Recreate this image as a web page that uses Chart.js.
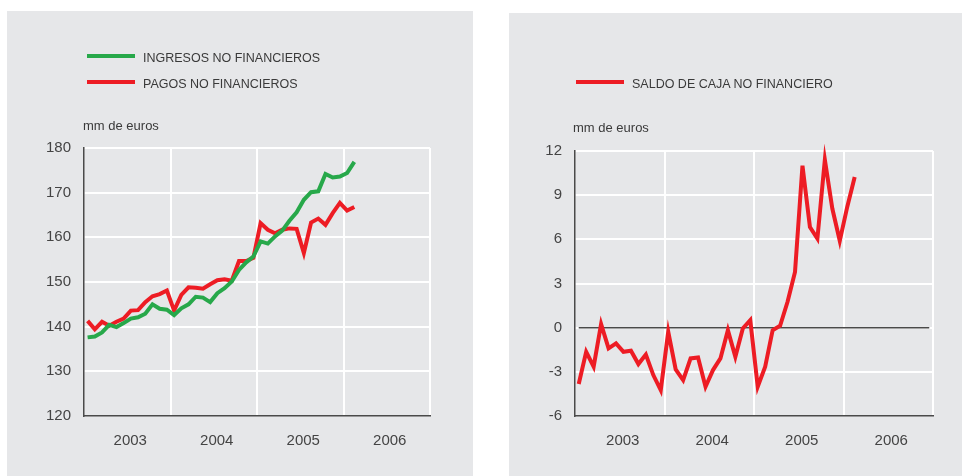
<!DOCTYPE html>
<html>
<head>
<meta charset="utf-8">
<script src="https://cdn.jsdelivr.net/npm/chart.js@4/dist/chart.umd.min.js"></script>
<style>
  html, body { margin: 0; padding: 0; background: #ffffff; }
  body { width: 962px; height: 476px; position: relative; overflow: hidden; font-family: "Liberation Sans", Arial, sans-serif; }
  .panel { position: absolute; background: #e6e7e9; }
  .panel canvas { position: absolute; left: 0; top: 0; }
  .txt { position: absolute; color: #3a3a3a; white-space: nowrap; line-height: 1; }
  .leg { font-size: 12.5px; }
  .unit { font-size: 13px; }
  .sw { position: absolute; height: 4px; }
</style>
</head>
<body>
<div class="panel" id="p1" style="left:7px; top:11px; width:466px; height:465px;">
  <canvas id="c1" width="466" height="465"></canvas>
  <div class="sw" id="sw1a" style="left:80px; top:43px; width:48px;"></div>
  <div class="txt leg" id="lg1a" style="left:136px; top:41px;"></div>
  <div class="sw" id="sw1b" style="left:80px; top:69px; width:48px;"></div>
  <div class="txt leg" id="lg1b" style="left:136px; top:67px;"></div>
  <div class="txt unit" id="u1" style="left:76px; top:108px;"></div>
</div>
<div class="panel" id="p2" style="left:509px; top:13px; width:453px; height:463px;">
  <canvas id="c2" width="453" height="463"></canvas>
  <div class="sw" id="sw2a" style="left:67px; top:67px; width:48px;"></div>
  <div class="txt leg" id="lg2a" style="left:123px; top:65px;"></div>
  <div class="txt unit" id="u2" style="left:64px; top:108px;"></div>
</div>
<script>
// ---------------- DATA ----------------
const years = ['2003', '2004', '2005', '2006'];
const unitLabel = 'mm de euros';
const nameIngresos = 'INGRESOS NO FINANCIEROS';
const namePagos = 'PAGOS NO FINANCIEROS';
const nameSaldo = 'SALDO DE CAJA NO FINANCIERO';

// monthly, Jan 2003 .. Feb 2006 (12-month cumulated, mm de euros)
const ingresos = [137.6, 137.8, 138.7, 140.4, 139.9, 140.8, 141.8, 142.1, 142.9, 145.0, 144.0, 143.8,
                  142.6, 144.1, 145.0, 146.7, 146.5, 145.5, 147.5, 148.6, 150.1, 152.7, 154.4, 155.7,
                  159.1, 158.6, 160.2, 161.5, 163.7, 165.6, 168.4, 170.1, 170.3, 174.2, 173.4, 173.6,
                  174.4, 176.9];
const pagos    = [141.3, 139.4, 141.1, 140.2, 141.1, 141.8, 143.6, 143.7, 145.5, 146.8, 147.3, 148.1,
                  143.6, 147.1, 148.8, 148.7, 148.5, 149.5, 150.4, 150.6, 150.3, 154.7, 154.7, 155.4,
                  163.2, 161.7, 160.9, 161.7, 162.0, 161.9, 156.5, 163.3, 164.2, 162.8, 165.4, 167.7,
                  166.0, 166.8];
const saldo    = [-3.83, -1.64, -2.65, 0.24, -1.41, -1.07, -1.64, -1.57, -2.47, -1.82, -3.22, -4.24,
                  -0.28, -2.84, -3.56, -2.09, -2.02, -4.01, -2.88, -2.09, -0.17, -1.98, -0.05, 0.51,
                  -4.01, -2.65, -0.17, 0.13, 1.76, 3.79, 11.0, 6.84, 6.05, 11.4, 8.09, 5.9,
                  8.2, 10.24];

// ---------------- STYLE ----------------
const GREEN = '#27a84a';
const RED = '#ed1c24';
const AXIS = '#4a4a4a';
const GRID = '#ffffff';
const TICKC = '#444444';
const FONT = '"Liberation Sans", Arial, sans-serif';

document.getElementById('lg1a').textContent = nameIngresos;
document.getElementById('lg1b').textContent = namePagos;
document.getElementById('lg2a').textContent = nameSaldo;
document.getElementById('u1').textContent = unitLabel;
document.getElementById('u2').textContent = unitLabel;
document.getElementById('sw1a').style.background = GREEN;
document.getElementById('sw1b').style.background = RED;
document.getElementById('sw2a').style.background = RED;

const toXY = arr => arr.map((v, i) => ({ x: i + 0.5, y: v }));

function xScale() {
  return {
    type: 'linear',
    min: 0,
    max: years.length * 12,
    afterBuildTicks: s => { s.ticks = []; for (let v = 0; v <= years.length * 12; v += 6) s.ticks.push({ value: v }); },
    afterFit: s => { s.height = 60; },
    grid: {
      color: c => (c.tick && c.tick.value % 12 === 0 && c.tick.value !== 0) ? GRID : 'rgba(0,0,0,0)',
      lineWidth: 2,
      drawTicks: false
    },
    border: { display: true, color: AXIS, width: 1.5 },
    ticks: {
      autoSkip: false,
      maxRotation: 0,
      padding: 16,
      labelOffset: 3,
      color: TICKC,
      font: { family: FONT, size: 15 },
      callback: v => (v % 12 === 6) ? years[(v - 6) / 12] : ''
    }
  };
}

function yScale(min, max, step, width) {
  return {
    type: 'linear',
    min: min, max: max,
    afterFit: s => { s.width = width; },
    grid: {
      color: c => (c.tick && c.tick.value === min) ? 'rgba(0,0,0,0)' : GRID,
      lineWidth: 2,
      drawTicks: false
    },
    border: { display: true, color: AXIS, width: 1.5 },
    ticks: {
      stepSize: step,
      padding: 13,
      color: TICKC,
      font: { family: FONT, size: 15 }
    }
  };
}

const common = {
  responsive: false,
  animation: false,
  events: [],
  plugins: { legend: { display: false }, tooltip: { enabled: false } },
  elements: { point: { radius: 0 }, line: { tension: 0, borderJoinStyle: 'miter', borderCapStyle: 'butt' } }
};

new Chart(document.getElementById('c1'), {
  type: 'line',
  data: {
    datasets: [
      { label: nameIngresos, data: toXY(ingresos), borderColor: GREEN, borderWidth: 4, clip: false, order: 0 },
      { label: namePagos, data: toXY(pagos), borderColor: RED, borderWidth: 4, clip: false, order: 1 }
    ]
  },
  options: Object.assign({}, common, {
    layout: { padding: { top: 137, right: 43, left: 0, bottom: 0 } },
    scales: { x: xScale(), y: yScale(120, 180, 10, 77) }
  })
});

new Chart(document.getElementById('c2'), {
  type: 'line',
  data: {
    datasets: [
      { label: nameSaldo, data: toXY(saldo), borderColor: RED, borderWidth: 4, clip: false, order: 0 },
      { label: 'cero', data: [{ x: 0.5, y: 0 }, { x: years.length * 12 - 0.5, y: 0 }], borderColor: AXIS, borderWidth: 1.5, clip: false, order: 1 }
    ]
  },
  options: Object.assign({}, common, {
    layout: { padding: { top: 138, right: 29, left: 0, bottom: 0 } },
    scales: { x: xScale(), y: yScale(-6, 12, 3, 66) }
  })
});
</script>
</body>
</html>
